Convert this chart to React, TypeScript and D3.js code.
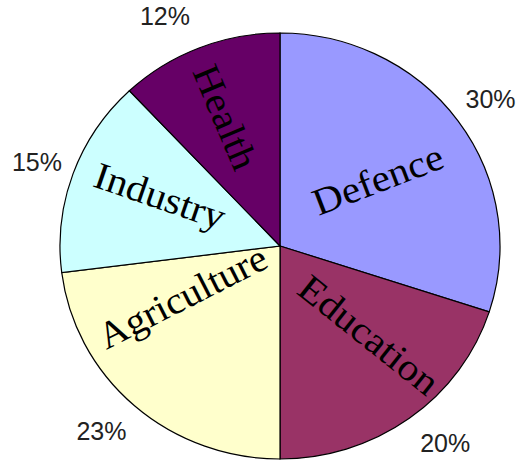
import React from 'react';
import * as d3 from 'd3';

const categories = ['Defence', 'Education', 'Agriculture', 'Industry', 'Health'];
const shares = [30, 20, 23, 15, 12];
const percentLabels = ['30%', '20%', '23%', '15%', '12%'];
const colors = ['#9999FF', '#993366', '#FFFFCC', '#CCFFFF', '#660066'];

const W = 520;
const H = 460;
const CX = 280;
const CY = 246;
const RX = 220;
const RY = 213;
const PCT_R = 257;

// label layout: polar position (deg clockwise from top, px), rotation, drawn length
const nameLayout = [
  { a: 56.4, r: 118, rot: -21, len: 137 },
  { a: 135.6, r: 126, rot: 38.5, len: 168 },
  { a: 241.8, r: 110, rot: -27, len: 184 },
  { a: 292, r: 130, rot: 19, len: 136 },
  { a: 336.4, r: 140, rot: 67, len: 110 },
];
const pctNudge = [1, -4, 2.6, -0.8, -5];

const rad = (d: number) => (d * Math.PI) / 180;

export default function App() {
  const arcs = d3.pie<number>().sort(null).value((d) => d)(shares);
  const arcGen = d3.arc<d3.PieArcDatum<number>>().innerRadius(0).outerRadius(RX);

  return (
    <svg
      width={W}
      height={H}
      viewBox={`0 0 ${W} ${H}`}
      style={{ position: 'absolute', left: 0, top: 0, background: '#fff' }}
    >
      <g transform={`translate(${CX},${CY}) scale(1,${RY / RX})`}>
        {arcs.map((a, i) => (
          <path
            key={categories[i]}
            d={arcGen(a) || ''}
            fill={colors[i]}
            stroke="#000"
            strokeWidth={1.2}
            vectorEffect="non-scaling-stroke"
          />
        ))}
      </g>
      {arcs.map((a, i) => {
        const L = nameLayout[i];
        const x = CX + L.r * Math.sin(rad(L.a));
        const y = CY - L.r * Math.cos(rad(L.a));
        return (
          <text
            key={'n' + i}
            transform={`translate(${x},${y}) rotate(${L.rot})`}
            textAnchor="middle"
            dy="0.3em"
            fontFamily="'Liberation Serif','Times New Roman',serif"
            fontSize={38}
            fill="#000"
            textLength={L.len}
            lengthAdjust="spacingAndGlyphs"
          >
            {categories[i]}
          </text>
        );
      })}
      {arcs.map((a, i) => {
        const mid = (a.startAngle + a.endAngle) / 2 + rad(pctNudge[i]);
        const x = CX + PCT_R * Math.sin(mid);
        const y = CY - PCT_R * Math.cos(mid);
        return (
          <text
            key={'p' + i}
            x={x}
            y={y}
            textAnchor="middle"
            dy="0.36em"
            fontFamily="'Liberation Sans',Arial,sans-serif"
            fontSize={25}
            fill="#222"
          >
            {percentLabels[i]}
          </text>
        );
      })}
    </svg>
  );
}
